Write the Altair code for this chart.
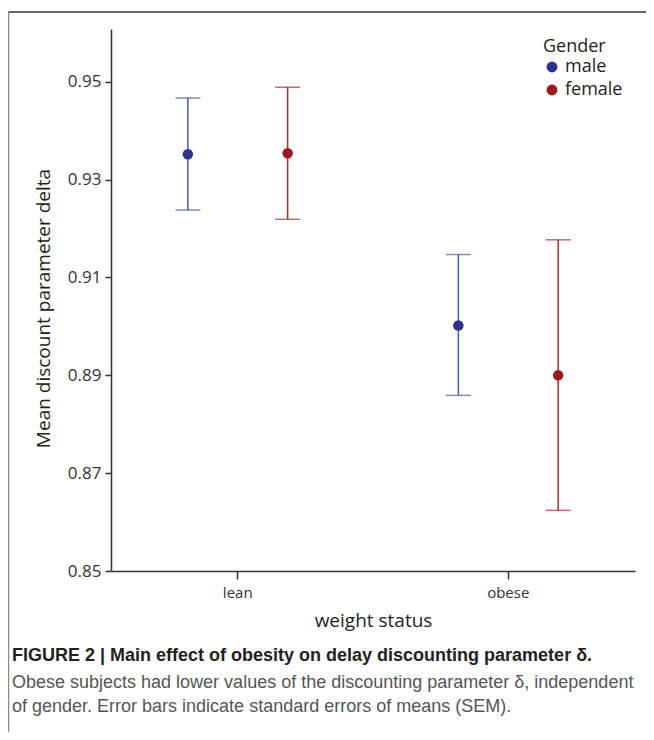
import altair as alt
import pandas as pd

# ---- data ----
weight_status = ["lean", "lean", "obese", "obese"]
gender = ["male", "female", "male", "female"]
mean_delta = [0.9352, 0.9354, 0.9002, 0.8900]
sem_low = [0.9238, 0.9219, 0.8859, 0.8624]
sem_high = [0.9467, 0.9489, 0.9147, 0.9177]

weight_order = ["lean", "obese"]
gender_order = ["male", "female"]
y_ticks = [0.85, 0.87, 0.89, 0.91, 0.93, 0.95]

line_colors = ["#4a59ad", "#b8262d"]
dot_colors = ["#2c3391", "#9c1a1f"]

caption_title = "FIGURE 2 | Main effect of obesity on delay discounting parameter δ."
caption_lines = [
    "Obese subjects had lower values of the discounting parameter δ, independent",
    "of gender. Error bars indicate standard errors of means (SEM).",
]

df = pd.DataFrame({
    "weight": weight_status,
    "gender": gender,
    "mean": mean_delta,
    "low": sem_low,
    "high": sem_high,
})

FONT = "Open Sans"
AX_COLOR = "#333333"

x_enc = alt.X(
    "weight:N", sort=weight_order,
    scale=alt.Scale(paddingInner=0.063, paddingOuter=0),
    axis=alt.Axis(title="weight status", labelAngle=0, tickSize=8,
                  labelPadding=6, titlePadding=11, titleFontSize=19),
)
xoff_enc = alt.XOffset("gender:N", sort=gender_order,
                       scale=alt.Scale(paddingOuter=0.27, paddingInner=0))


def y_enc(field):
    return alt.Y(
        f"{field}:Q",
        scale=alt.Scale(domain=[0.85, 0.9608], nice=False, zero=False),
        axis=alt.Axis(values=y_ticks, format=".2f", grid=False, tickSize=6,
                      labelFontSize=17, labelPadding=4,
                      title="Mean discount parameter delta", titlePadding=14,
                      titleY=279, titleFontSize=19),
    )


line_color = alt.Color("gender:N", sort=gender_order,
                       scale=alt.Scale(domain=gender_order, range=line_colors),
                       legend=None)
dot_color = alt.Color(
    "gender:N", sort=gender_order,
    scale=alt.Scale(domain=gender_order, range=dot_colors),
    legend=alt.Legend(title="Gender", orient="none", legendX=432, legendY=9,
                      symbolType="circle", symbolSize=120, symbolStrokeWidth=0,
                      titleFontSize=18, labelFontSize=18, titleFont=FONT,
                      labelFont=FONT, titleFontWeight="normal",
                      titleColor="#231f20", labelColor="#231f20",
                      rowPadding=5, titlePadding=2, labelOffset=4),
)

base = alt.Chart(df).encode(x=x_enc, xOffset=xoff_enc)

bars = base.mark_rule(strokeWidth=1.5).encode(
    y=y_enc("low"), y2="high:Q", color=line_color)
cap_low = base.mark_tick(size=25, thickness=1.5).encode(
    y=y_enc("low"), color=line_color)
cap_high = base.mark_tick(size=25, thickness=1.5).encode(
    y=y_enc("high"), color=line_color)
dots = base.mark_circle(size=110, opacity=1).encode(
    y=y_enc("mean"), color=dot_color)

frame_df = pd.DataFrame({"a": [0]})
frame_left = alt.Chart(frame_df).mark_rule(color="#8c8c8c", strokeWidth=1.5).encode(
    x=alt.value(-102.5), y=alt.value(-17), y2=alt.value(703))
frame_top = alt.Chart(frame_df).mark_rule(color="#333333", strokeWidth=1.5).encode(
    x=alt.value(-102.5), x2=alt.value(545), y=alt.value(-17))

chart = alt.layer(bars, cap_low, cap_high, dots, frame_left, frame_top).resolve_scale(
    color="independent"
).properties(
    width=524,
    height=542,
    background="white",
    autosize=alt.AutoSizeParams(type="none"),
    padding={"left": 103, "top": 21, "right": 11, "bottom": 161},
    title=alt.TitleParams(
        text=caption_title,
        subtitle=caption_lines,
        orient="bottom", anchor="start", frame="group", dx=-99, dy=-86, offset=0,
        font="Liberation Sans", fontSize=18, fontWeight="bold",
        color="#231f20",
        subtitleFont="Liberation Sans", subtitleFontSize=18,
        subtitleColor="#555555", subtitleLineHeight=24, subtitlePadding=9,
    ),
).configure_view(stroke=None).configure_axis(
    domainColor=AX_COLOR, domainWidth=1.5, tickColor=AX_COLOR, tickWidth=1.5,
    labelFont=FONT, titleFont=FONT, labelFontSize=15, titleFontSize=18,
    labelColor=AX_COLOR, titleColor="#231f20", titleFontWeight="normal",
)

chart.save("out.html", embed_options={"renderer": "svg", "actions": False})
